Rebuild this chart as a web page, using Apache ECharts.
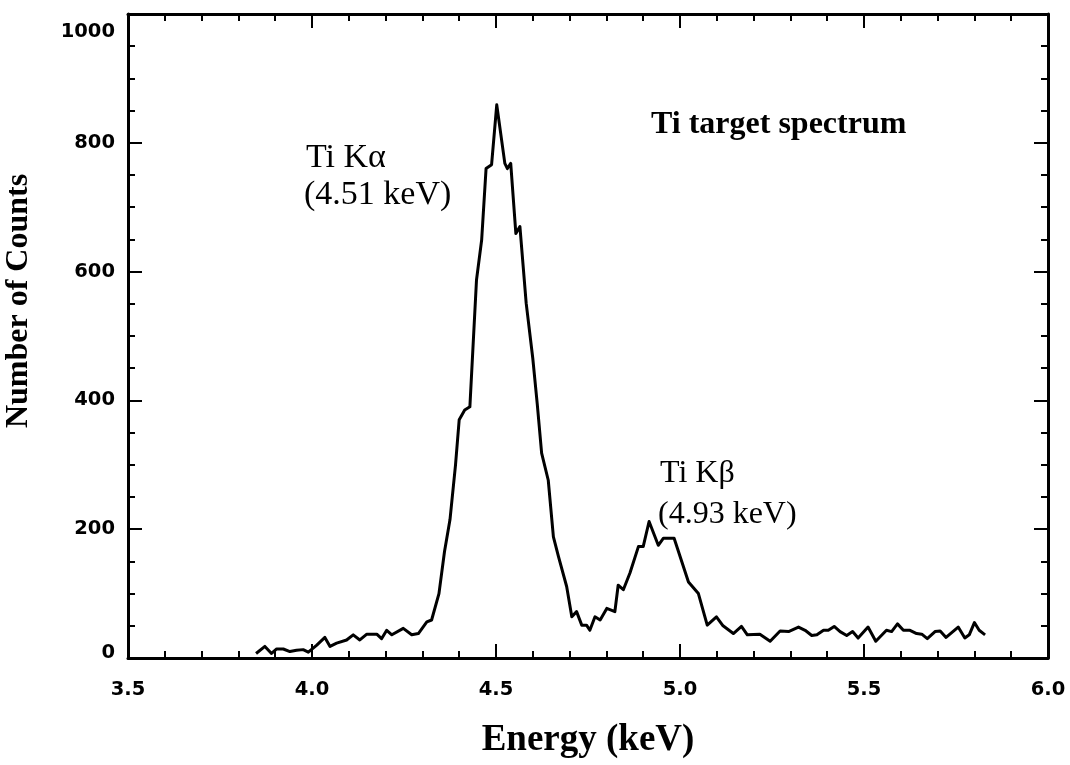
<!DOCTYPE html>
<html>
<head>
<meta charset="utf-8">
<title>Ti target spectrum</title>
<script src="https://cdn.jsdelivr.net/npm/echarts@6/dist/echarts.min.js"></script>
<style>
  html, body { margin: 0; padding: 0; background: #fff; }
  #chart { width: 1070px; height: 765px; }
</style>
</head>
<body>
<div id="chart"></div>
<script>
// Ti target X-ray spectrum: energy (keV) vs. number of counts
const energyKeV = [
  3.848, 3.872, 3.890, 3.904, 3.922, 3.940, 3.958, 3.976, 3.990, 4.013,
  4.035, 4.049, 4.067, 4.094, 4.112, 4.130, 4.149, 4.176, 4.189, 4.203,
  4.217, 4.248, 4.271, 4.289, 4.312, 4.325, 4.345, 4.360, 4.375, 4.390,
  4.400, 4.415, 4.429, 4.447, 4.461, 4.473, 4.488, 4.502, 4.524, 4.531,
  4.540, 4.554, 4.565, 4.582, 4.600, 4.612, 4.624, 4.642, 4.656, 4.670,
  4.692, 4.706, 4.719, 4.733, 4.746, 4.755, 4.769, 4.783, 4.801, 4.823,
  4.832, 4.846, 4.864, 4.887, 4.900, 4.916, 4.941, 4.955, 4.984, 5.023,
  5.050, 5.074, 5.099, 5.117, 5.145, 5.167, 5.183, 5.217, 5.245, 5.272,
  5.295, 5.322, 5.340, 5.358, 5.372, 5.390, 5.403, 5.419, 5.435, 5.453,
  5.469, 5.484, 5.511, 5.532, 5.561, 5.575, 5.591, 5.607, 5.625, 5.643,
  5.657, 5.672, 5.693, 5.707, 5.723, 5.756, 5.774, 5.786, 5.800, 5.813,
  5.829
];
const counts = [
  7, 18, 7, 14, 14, 10, 12, 13, 9, 20,
  32, 18, 23, 28, 36, 28, 37, 37, 30, 43,
  36, 46, 36, 38, 56, 59, 100, 165, 215, 300,
  370, 385, 390, 587, 649, 760, 766, 859, 768, 760,
  768, 659, 670, 551, 465, 395, 318, 276, 188, 157,
  111, 64, 72, 51, 51, 43, 64, 59, 77, 72,
  113, 106, 132, 173, 173, 212, 175, 186, 186, 118,
  100, 51, 64, 50, 38, 49, 36, 37, 26, 42,
  41, 48, 43, 35, 36, 43, 43, 49, 41, 35,
  41, 31, 48, 26, 43, 41, 53, 43, 43, 38,
  37, 30, 41, 42, 32, 48, 31, 36, 55, 43,
  36
];
const xTicks = { min: 3.5, max: 6.0, step: 0.5 };
const yTicks = { min: 0, max: 1000, step: 200 };

const chart = echarts.init(document.getElementById('chart'), null, { renderer: 'canvas' });

const tickFont = { fontFamily: 'DejaVu Sans', fontWeight: 'bold', fontSize: 19.5, color: '#000' };
const serif = 'Liberation Serif, Times New Roman, serif';
const ink = '#000';

function frameAxis(extra) {
  return Object.assign({
    type: 'value',
    axisLine: { show: true, onZero: false, lineStyle: { color: ink, width: 3 } },
    axisTick: { show: true, inside: true, length: 14, lineStyle: { color: ink, width: 2 } },
    splitLine: { show: false },
    minorSplitLine: { show: false }
  }, extra);
}

const data = energyKeV.map((e, i) => [e, counts[i]]);

chart.setOption({
  backgroundColor: '#fff',
  animation: false,
  grid: { left: 128, right: 22, top: 14, bottom: 107, containLabel: false, outerBoundsMode: 'none' },
  xAxis: [
    frameAxis({
      position: 'bottom', min: xTicks.min, max: xTicks.max, interval: xTicks.step,
      minorTick: { show: true, splitNumber: 5, length: 7, lineStyle: { color: ink, width: 2 } },
      axisLabel: Object.assign({ margin: 22, formatter: v => v.toFixed(1) }, tickFont),
      name: 'Energy (keV)', nameLocation: 'middle', nameGap: 64,
      nameTextStyle: { fontFamily: serif, fontWeight: 'bold', fontSize: 37, color: ink }
    }),
    frameAxis({
      position: 'top', min: xTicks.min, max: xTicks.max, interval: xTicks.step,
      minorTick: { show: true, splitNumber: 5, length: 7, lineStyle: { color: ink, width: 2 } },
      axisLabel: { show: false }
    })
  ],
  yAxis: [
    frameAxis({
      position: 'left', min: yTicks.min, max: yTicks.max, interval: yTicks.step,
      minorTick: { show: true, splitNumber: 4, length: 7, lineStyle: { color: ink, width: 2 } },
      axisLabel: Object.assign({
        margin: 13,
        formatter: v => v === yTicks.max ? '{hi|' + v + '}' : v === yTicks.min ? '{lo|' + v + '}' : String(v),
        rich: {
          hi: Object.assign({ padding: [36, 0, 0, 0] }, tickFont),
          lo: Object.assign({ padding: [0, 0, 10, 0] }, tickFont)
        }
      }, tickFont),
      name: 'Number of Counts', nameLocation: 'middle', nameGap: 93,
      nameTextStyle: { fontFamily: serif, fontWeight: 'bold', fontSize: 32, color: ink, padding: [0, 0, 0, 70] }
    }),
    frameAxis({
      position: 'right', min: yTicks.min, max: yTicks.max, interval: yTicks.step,
      minorTick: { show: true, splitNumber: 4, length: 7, lineStyle: { color: ink, width: 2 } },
      axisLabel: { show: false }
    })
  ],
  graphic: [
    { type: 'text', z: 10, style: { text: 'Ti Kα', x: 306, y: 158, verticalAlign: 'middle', font: '34px ' + serif, fill: ink } },
    { type: 'text', z: 10, style: { text: '(4.51 keV)', x: 304, y: 195, verticalAlign: 'middle', font: '34px ' + serif, fill: ink } },
    { type: 'text', z: 10, style: { text: 'Ti Kβ', x: 660, y: 474, verticalAlign: 'middle', font: '32px ' + serif, fill: ink } },
    { type: 'text', z: 10, style: { text: '(4.93 keV)', x: 658, y: 515, verticalAlign: 'middle', font: '32px ' + serif, fill: ink } },
    { type: 'text', z: 10, style: { text: 'Ti target spectrum', x: 651, y: 125, verticalAlign: 'middle', font: 'bold 32px ' + serif, fill: ink } }
  ],
  series: [{
    type: 'line',
    xAxisIndex: 0,
    yAxisIndex: 0,
    data: data,
    showSymbol: false,
    symbol: 'none',
    lineStyle: { color: ink, width: 3, join: 'round' }
  }]
});
</script>
</body>
</html>
